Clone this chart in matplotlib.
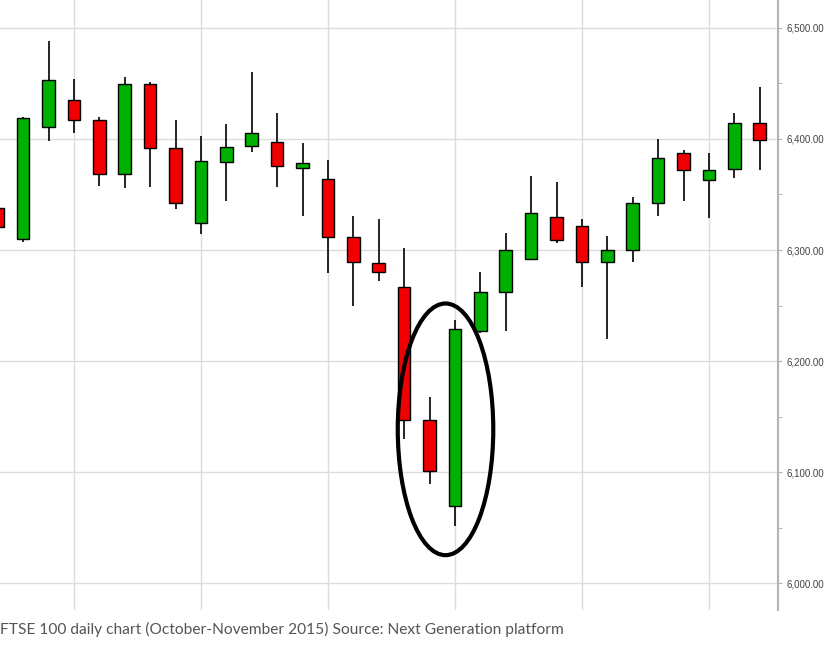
import matplotlib
matplotlib.use("Agg")
import matplotlib.pyplot as plt
from matplotlib.patches import Ellipse
import numpy as np

# FTSE 100 daily candles
opens = [6338, 6310, 6411, 6435, 6417, 6368, 6449, 6392, 6324, 6379, 6394,
         6397, 6374, 6364, 6312, 6288, 6267, 6147, 6070, 6227, 6262,
         6292, 6330, 6322, 6289, 6300, 6342, 6387, 6363, 6373, 6414]
highs = [6340, 6420, 6488, 6454, 6420, 6456, 6451, 6417, 6403, 6413, 6460,
         6423, 6396, 6381, 6331, 6328, 6302, 6168, 6237, 6280, 6315,
         6367, 6361, 6328, 6313, 6348, 6400, 6390, 6387, 6423, 6447]
lows = [6319, 6307, 6398, 6405, 6358, 6356, 6357, 6337, 6314, 6344, 6388,
        6357, 6331, 6279, 6250, 6272, 6130, 6089, 6052, 6225, 6227,
        6291, 6306, 6267, 6220, 6289, 6331, 6344, 6329, 6365, 6372]
closes = [6321, 6419, 6453, 6417, 6368, 6449, 6392, 6342, 6380, 6393, 6405,
          6376, 6378, 6312, 6289, 6280, 6147, 6101, 6229, 6262, 6300,
          6333, 6309, 6289, 6300, 6342, 6383, 6372, 6372, 6414, 6399]

week_starts = [3, 8, 13, 18, 23, 28]
y_ticks = [6000, 6100, 6200, 6300, 6400, 6500]
caption = "FTSE 100 daily chart (October-November 2015) Source: Next Generation platform"

green = "#00b000"
red = "#f00000"

fig = plt.figure(figsize=(8.3, 6.47), dpi=100)
ax = fig.add_axes([0, 37 / 647, 778 / 830, 610 / 647])

x = np.arange(len(opens))
o = np.array(opens)
c = np.array(closes)
colors = [green if cc >= oo else red for oo, cc in zip(o, c)]

ax.vlines(x, lows, highs, color="black", linewidth=1.2, zorder=2)
ax.bar(x, np.abs(c - o), bottom=np.minimum(o, c), width=0.5,
       color=colors, edgecolor="black", linewidth=1.0, zorder=3)

# circle around the reversal
ax.add_patch(Ellipse((17.63, 6138.6), 3.76, 226.5, fill=False,
                     edgecolor="black", linewidth=3, zorder=4))

ax.set_xlim(0.09, 30.72)
ax.set_ylim(5976, 6525)

ax.set_xticks(week_starts)
ax.set_xticklabels([])
ax.tick_params(axis="x", length=0)

ax.yaxis.tick_right()
ax.set_yticks(y_ticks)
ax.set_yticklabels([f"{v:,.2f}" for v in y_ticks], fontsize=7,
                   color="#444444", family="Liberation Sans")
ax.set_yticks(np.arange(6050, 6500, 100), minor=True)
ax.tick_params(axis="y", which="both", length=3, color="#b0b0b0", pad=3)

ax.grid(True, color="#dcdcdc", linewidth=1)
ax.set_axisbelow(True)
for s in ["left", "top", "bottom"]:
    ax.spines[s].set_visible(False)
ax.spines["right"].set_color("#b4b4b4")
ax.spines["right"].set_linewidth(1.5)

fig.text(0.0, 18 / 647, caption, fontsize=11.2, color="#555555",
         family="Lato", va="center", ha="left")

fig.savefig("out.png", dpi=100)
